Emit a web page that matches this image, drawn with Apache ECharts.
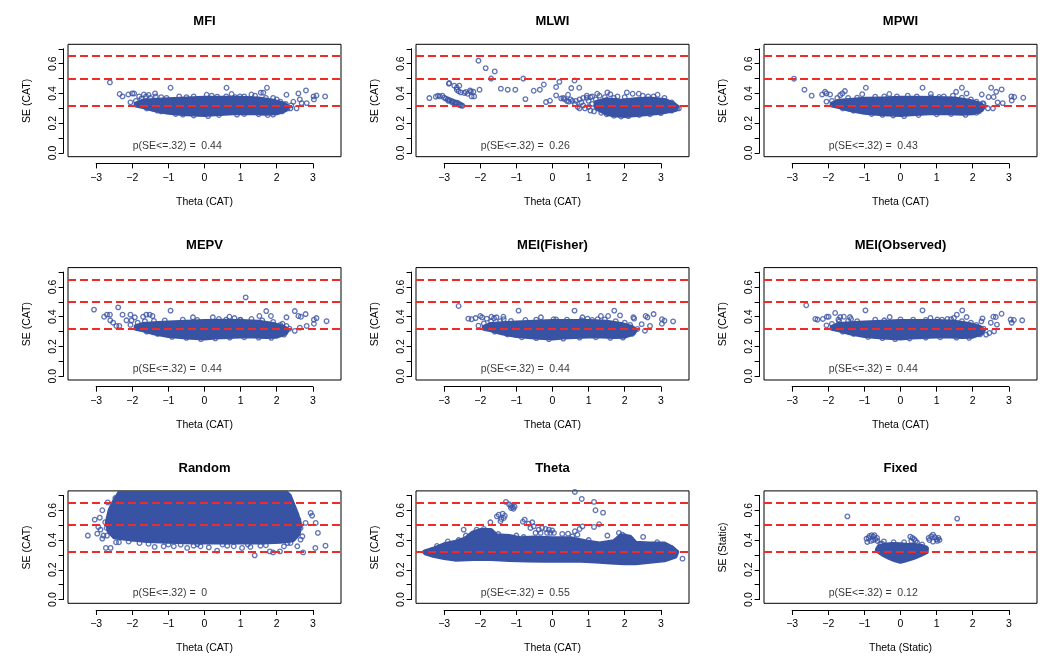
<!DOCTYPE html>
<html>
<head>
<meta charset="utf-8">
<script src="https://cdn.jsdelivr.net/npm/echarts@6/dist/echarts.min.js"></script>
<style>
  html, body { margin: 0; padding: 0; background: #fff; }
  #chart { width: 1050px; height: 663px; }
</style>
</head>
<body>
<div id="chart"></div>
<script>
// panel titles, axis titles and the p(SE<=.32) values
const titles = ['MFI', 'MLWI', 'MPWI', 'MEPV', 'MEI(Fisher)', 'MEI(Observed)', 'Random', 'Theta', 'Fixed'];
const xTitles = ['Theta (CAT)', 'Theta (CAT)', 'Theta (CAT)', 'Theta (CAT)', 'Theta (CAT)', 'Theta (CAT)', 'Theta (CAT)', 'Theta (CAT)', 'Theta (Static)'];
const yTitles = ['SE (CAT)', 'SE (CAT)', 'SE (CAT)', 'SE (CAT)', 'SE (CAT)', 'SE (CAT)', 'SE (CAT)', 'SE (CAT)', 'SE (Static)'];
const pValues = ['0.44', '0.26', '0.43', '0.44', '0.44', '0.44', '0', '0.55', '0.12'];
const refLines = [0.32, 0.5, 0.65];

// outline of the dense (overplotted) part of each cloud, [theta, SE]
const mfiCore = [[-1.9,0.33],[-1.7,0.35],[-1.4,0.355],[-1.0,0.36],[-0.5,0.365],[0,0.37],[0.5,0.37],[1.0,0.37],[1.5,0.365],[1.9,0.35],[2.2,0.33],[2.3,0.31],
  [2.25,0.29],[2.0,0.268],[1.7,0.265],[1.2,0.27],[0.8,0.268],[0.3,0.262],[0,0.256],[-0.5,0.262],[-1.0,0.272],[-1.4,0.29],[-1.7,0.31],[-1.9,0.32]];
const mlwiCore = [[1.2,0.34],[1.5,0.36],[1.9,0.35],[2.3,0.36],[2.7,0.365],[3.1,0.355],[3.35,0.33],[3.45,0.31],
  [3.4,0.29],[3.0,0.272],[2.5,0.26],[2.0,0.25],[1.7,0.255],[1.5,0.265],[1.3,0.29],[1.2,0.31]];
const mpwiCore = [[-1.9,0.33],[-1.7,0.35],[-1.4,0.355],[-1.0,0.362],[-0.5,0.365],[0,0.37],[0.5,0.37],[1.0,0.368],[1.5,0.365],[1.9,0.35],[2.2,0.33],[2.3,0.31],
  [2.25,0.29],[2.0,0.268],[1.7,0.265],[1.2,0.27],[0.8,0.268],[0.3,0.262],[0,0.256],[-0.5,0.262],[-1.0,0.272],[-1.4,0.29],[-1.7,0.31],[-1.9,0.32]];
const mepvCore = [[-1.9,0.335],[-1.7,0.35],[-1.4,0.355],[-1.0,0.36],[-0.5,0.365],[0,0.37],[0.5,0.372],[1.0,0.37],[1.5,0.365],[1.9,0.35],[2.2,0.33],[2.3,0.31],
  [2.25,0.29],[2.0,0.268],[1.7,0.265],[1.2,0.27],[0.8,0.268],[0.3,0.262],[0,0.256],[-0.5,0.262],[-1.0,0.272],[-1.4,0.29],[-1.7,0.31],[-1.9,0.32]];
const fisherCore = [[-1.9,0.33],[-1.7,0.35],[-1.4,0.355],[-1.0,0.36],[-0.5,0.365],[0,0.37],[0.5,0.37],[1.0,0.37],[1.5,0.365],[1.9,0.35],[2.2,0.33],[2.3,0.31],
  [2.25,0.29],[2.0,0.268],[1.7,0.265],[1.2,0.27],[0.8,0.268],[0.3,0.262],[0,0.256],[-0.5,0.262],[-1.0,0.272],[-1.4,0.29],[-1.7,0.31],[-1.9,0.32]];
const obsCore = [[-1.9,0.33],[-1.7,0.35],[-1.4,0.355],[-1.0,0.36],[-0.5,0.365],[0,0.37],[0.5,0.37],[1.0,0.37],[1.5,0.365],[1.9,0.35],[2.2,0.33],[2.3,0.31],
  [2.25,0.29],[2.0,0.268],[1.7,0.265],[1.2,0.27],[0.8,0.268],[0.3,0.262],[0,0.256],[-0.5,0.262],[-1.0,0.272],[-1.4,0.29],[-1.7,0.31],[-1.9,0.32]];
const randomCore = [[-2.35,0.72],[2.25,0.72],[2.35,0.70],[2.45,0.64],[2.55,0.58],[2.65,0.5],[2.6,0.44],[2.45,0.40],[2.1,0.39],[1.6,0.385],[1.0,0.385],
  [0.4,0.385],[-0.3,0.385],[-1.0,0.39],[-1.6,0.395],[-2.2,0.41],[-2.5,0.42],[-2.65,0.46],[-2.7,0.52],[-2.62,0.6],[-2.5,0.66]];
const thetaCore = [[-3.55,0.32],[-3.3,0.34],[-3.0,0.37],[-2.7,0.385],[-2.4,0.41],[-2.2,0.45],[-2.0,0.465],[-1.7,0.465],[-1.55,0.43],[-1.2,0.425],[-0.9,0.41],
  [-0.5,0.415],[0,0.41],[0.5,0.41],[0.9,0.39],[1.3,0.375],[1.7,0.39],[1.9,0.43],[2.15,0.42],[2.3,0.38],[2.7,0.375],[3.1,0.375],[3.3,0.35],[3.45,0.32],
  [3.4,0.29],[3.1,0.265],[2.7,0.255],[2.3,0.245],[2.0,0.245],[1.6,0.25],[1.2,0.258],[0.8,0.262],[0.3,0.262],[-0.2,0.262],[-0.7,0.265],[-1.2,0.268],
  [-1.7,0.275],[-2.2,0.275],[-2.7,0.27],[-3.0,0.28],[-3.3,0.295],[-3.5,0.31]];
const fixedCore = [[-0.65,0.33],[-0.6,0.355],[-0.4,0.368],[-0.2,0.372],[0,0.37],[0.2,0.365],[0.4,0.365],[0.6,0.358],[0.72,0.345],[0.72,0.32],
  [0.55,0.30],[0.35,0.28],[0.15,0.265],[0,0.255],[-0.15,0.265],[-0.35,0.285],[-0.5,0.305]];

// individual points, [theta, SE]
const mfiPts = [[-2.62,0.474],[-2.35,0.396],[-2.27,0.38],[-2.11,0.393],[-2.0,0.40],[-1.95,0.40],[-1.81,0.38],[-1.68,0.393],[-1.62,0.38],[-1.55,0.39],
  [-1.37,0.40],[-1.35,0.38],[-0.94,0.438],[0.06,0.391],[0.61,0.438],[0.75,0.396],[0.98,0.38],[1.30,0.393],[1.56,0.405],[1.63,0.405],[1.73,0.438],
  [2.27,0.391],[2.6,0.40],[2.81,0.42],[2.64,0.36],[3.02,0.38],[3.03,0.36],[3.10,0.386],[3.34,0.38],[2.46,0.344],[2.55,0.30],[2.69,0.335],[2.83,0.335],
  [2.38,0.30],[-2.05,0.34],[-1.9,0.35],[-1.75,0.365],[-1.5,0.37],[-1.2,0.375],[-1.05,0.37],[-0.7,0.38],[-0.5,0.375],[-0.3,0.38],[0.2,0.385],
  [0.35,0.378],[0.6,0.38],[0.85,0.375],[1.1,0.38],[1.4,0.385],[1.7,0.37],[1.9,0.37],[2.0,0.36],[2.1,0.345],[2.25,0.33],[2.4,0.32],[-1.6,0.30],
  [-1.3,0.285],[-1.2,0.28],[-0.8,0.262],[-0.6,0.258],[-0.3,0.252],[0.1,0.248],[0.4,0.255],[0.9,0.258],[1.1,0.262],[1.5,0.26],[1.75,0.255],
  [1.9,0.258],[2.15,0.28],[2.3,0.30]];
const mlwiPts = [[-3.41,0.369],[-3.23,0.378],[-3.17,0.385],[-3.12,0.38],[-3.05,0.385],[-3.0,0.372],[-2.95,0.365],[-2.9,0.36],[-2.85,0.355],[-2.8,0.35],
  [-2.75,0.345],[-2.7,0.34],[-2.65,0.338],[-2.6,0.332],[-2.55,0.325],[-2.52,0.318],[-2.49,0.317],[-2.57,0.322],[-2.67,0.332],[-2.78,0.34],[-2.88,0.35],
  [-2.86,0.47],[-2.87,0.465],[-2.72,0.452],[-2.65,0.44],[-2.58,0.452],[-2.65,0.425],[-2.54,0.407],[-2.44,0.403],[-2.35,0.398],[-2.28,0.42],
  [-2.26,0.411],[-2.19,0.411],[-2.17,0.38],[-2.24,0.38],[-2.4,0.41],[-2.6,0.415],[-2.02,0.425],[-2.05,0.62],[-1.85,0.57],[-1.60,0.548],[-1.70,0.50],
  [-1.43,0.432],[-1.24,0.425],[-1.03,0.425],[-0.81,0.50],[-0.75,0.362],[-0.52,0.418],[-0.35,0.425],[-0.24,0.46],[-0.18,0.342],[-0.07,0.351],
  [0.10,0.443],[0.19,0.478],[0.10,0.387],[0.24,0.367],[0.33,0.362],[0.43,0.391],[0.52,0.436],[0.61,0.487],[0.74,0.438],[0.3,0.37],[0.4,0.35],
  [0.45,0.345],[0.5,0.36],[0.55,0.35],[0.62,0.33],[0.65,0.35],[0.7,0.31],[0.75,0.36],[0.75,0.30],[0.8,0.34],[0.85,0.32],[0.9,0.30],[0.95,0.37],
  [1.0,0.35],[1.0,0.31],[1.05,0.285],[1.1,0.38],[1.1,0.33],[1.15,0.28],[1.2,0.36],[1.25,0.30],[1.3,0.385],[1.35,0.27],[0.85,0.37],[0.95,0.385],
  [1.05,0.375],[1.24,0.398],[1.52,0.407],[2.06,0.407],[2.22,0.398],[2.39,0.398],[2.91,0.391],[2.65,0.38],[1.6,0.395],[1.8,0.38],[2.0,0.375],
  [2.5,0.385],[2.8,0.38],[3.1,0.37],[3.3,0.34],[3.5,0.30],[1.45,0.375],[1.7,0.37],[1.5,0.26],[1.7,0.25],[1.9,0.245],[2.1,0.248],[2.4,0.255],
  [2.7,0.26],[3.0,0.268],[3.3,0.285],[3.45,0.30]];
const mpwiPts = [[-2.95,0.499],[-2.66,0.425],[-2.46,0.385],[-2.17,0.393],[-2.09,0.411],[-2.05,0.40],[-1.95,0.393],[-1.67,0.389],[-1.61,0.40],
  [-1.54,0.416],[-1.06,0.395],[-0.96,0.438],[-0.31,0.396],[0.61,0.438],[0.84,0.396],[1.07,0.376],[1.54,0.411],[1.70,0.438],[1.83,0.40],[2.25,0.393],
  [2.51,0.438],[2.65,0.411],[2.80,0.427],[2.44,0.376],[2.58,0.376],[3.07,0.38],[3.08,0.353],[3.15,0.376],[3.40,0.371],[2.28,0.335],[2.42,0.30],
  [2.56,0.30],[2.69,0.34],[2.83,0.335],[2.17,0.28],[-2.05,0.345],[-1.9,0.35],[-1.75,0.37],[-1.45,0.37],[-1.2,0.372],[-0.7,0.378],[-0.45,0.38],
  [-0.1,0.38],[0.2,0.385],[0.45,0.38],[0.85,0.375],[1.2,0.38],[1.45,0.385],[1.7,0.372],[1.95,0.36],[2.1,0.345],[2.3,0.33],[-1.6,0.30],[-1.3,0.285],
  [-0.8,0.262],[-0.5,0.256],[-0.2,0.252],[0.1,0.248],[0.5,0.255],[1.0,0.26],[1.4,0.262],[1.8,0.256],[2.1,0.27]];
const mepvPts = [[-3.06,0.448],[-2.78,0.40],[-2.70,0.414],[-2.62,0.414],[-2.61,0.376],[-2.53,0.36],[-2.44,0.338],[-2.36,0.338],[-2.39,0.463],
  [-2.27,0.414],[-2.16,0.376],[-2.05,0.414],[-2.02,0.376],[-1.93,0.396],[-1.7,0.40],[-1.61,0.414],[-1.52,0.414],[-1.44,0.405],[-0.94,0.441],
  [-0.32,0.396],[0.23,0.396],[0.69,0.40],[0.83,0.391],[0.99,0.38],[1.14,0.53],[1.52,0.405],[1.71,0.438],[1.84,0.405],[2.27,0.396],[2.5,0.438],
  [2.6,0.405],[2.67,0.40],[2.8,0.418],[3.03,0.38],[3.03,0.353],[3.10,0.391],[3.38,0.37],[2.16,0.353],[2.27,0.338],[2.5,0.305],[2.64,0.327],
  [2.83,0.338],[-2.05,0.345],[-1.85,0.36],[-1.65,0.37],[-1.4,0.372],[-1.1,0.375],[-0.6,0.38],[-0.2,0.378],[0.4,0.385],[0.6,0.38],[1.0,0.378],
  [1.3,0.385],[1.6,0.375],[1.9,0.365],[2.1,0.345],[2.35,0.32],[-1.6,0.30],[-1.3,0.285],[-0.9,0.265],[-0.5,0.258],[-0.1,0.25],[0.3,0.255],
  [0.7,0.26],[1.1,0.262],[1.5,0.26],[1.85,0.258],[2.2,0.28]];
const fisherPts = [[-2.60,0.472],[-2.33,0.387],[-2.24,0.383],[-2.13,0.391],[-2.0,0.405],[-1.95,0.396],[-1.82,0.387],[-1.69,0.40],[-1.62,0.391],
  [-1.55,0.396],[-1.36,0.40],[-1.35,0.383],[-0.94,0.441],[-0.32,0.396],[0.03,0.383],[0.61,0.441],[0.83,0.396],[0.97,0.387],[1.25,0.383],[1.34,0.405],
  [1.54,0.405],[1.71,0.441],[1.87,0.409],[2.24,0.396],[2.26,0.387],[2.58,0.405],[2.63,0.396],[2.8,0.418],[3.03,0.383],[3.03,0.353],[3.10,0.374],
  [3.34,0.369],[2.47,0.35],[2.56,0.306],[2.70,0.338],[2.2,0.32],[-2.05,0.34],[-1.9,0.355],[-1.7,0.368],[-1.45,0.37],[-1.15,0.372],[-0.75,0.378],
  [-0.45,0.38],[0.1,0.382],[0.4,0.38],[0.8,0.376],[1.1,0.378],[1.45,0.382],[1.75,0.37],[2.0,0.36],[2.15,0.345],[2.35,0.318],[-1.6,0.30],[-1.25,0.282],
  [-0.85,0.262],[-0.45,0.256],[-0.1,0.25],[0.3,0.253],[0.75,0.26],[1.2,0.262],[1.6,0.258],[1.95,0.26],[2.2,0.285]];
const obsPts = [[-2.61,0.477],[-2.36,0.385],[-2.30,0.381],[-2.15,0.385],[-2.04,0.40],[-1.99,0.40],[-1.81,0.425],[-1.72,0.381],[-1.67,0.398],
  [-1.57,0.40],[-1.4,0.398],[-1.37,0.385],[-0.97,0.443],[-0.3,0.398],[0.61,0.443],[0.83,0.392],[1.02,0.381],[1.30,0.385],[1.48,0.392],[1.71,0.443],
  [1.83,0.398],[1.56,0.414],[2.27,0.389],[2.24,0.369],[2.57,0.40],[2.64,0.398],[2.80,0.42],[2.5,0.36],[2.67,0.347],[3.05,0.381],[3.08,0.36],
  [3.14,0.378],[3.37,0.376],[2.59,0.302],[2.46,0.291],[2.37,0.28],[-2.05,0.342],[-1.9,0.352],[-1.7,0.368],[-1.45,0.372],[-1.2,0.37],[-0.7,0.38],
  [-0.45,0.376],[0.0,0.382],[0.35,0.38],[0.7,0.378],[1.15,0.38],[1.4,0.384],[1.7,0.37],[1.95,0.36],[2.1,0.345],[2.3,0.32],[-1.6,0.30],[-1.3,0.285],
  [-0.9,0.264],[-0.5,0.256],[-0.15,0.25],[0.25,0.254],[0.7,0.26],[1.1,0.262],[1.55,0.26],[1.9,0.258],[2.2,0.282]];
const randomPts = [[-3.23,0.43],[-3.04,0.537],[-2.97,0.443],[-2.94,0.488],[-2.83,0.60],[-2.88,0.47],[-2.71,0.481],[-2.68,0.653],[-2.73,0.347],
  [-2.60,0.347],[-2.8,0.43],[-2.7,0.43],[-2.83,0.41],[-2.47,0.682],[-2.37,0.385],[-2.24,0.43],[-2.0,0.41],[-2.75,0.52],[-2.9,0.55],[-2.6,0.56],
  [-2.55,0.62],[-2.45,0.385],[-1.38,0.354],[-1.13,0.358],[-0.85,0.358],[-0.66,0.369],[-0.48,0.347],[-0.3,0.362],[-0.11,0.358],[0.12,0.351],
  [0.35,0.329],[0.63,0.362],[0.81,0.358],[1.04,0.347],[1.27,0.354],[1.39,0.297],[1.55,0.362],[1.81,0.324],[1.90,0.317],[2.09,0.324],[2.20,0.358],
  [2.36,0.638],[2.47,0.56],[2.6,0.537],[2.66,0.481],[2.71,0.425],[2.80,0.515],[2.94,0.582],[2.98,0.564],[3.07,0.347],[3.08,0.515],[3.14,0.448],
  [2.73,0.317],[2.66,0.403],[2.57,0.358],[2.38,0.38],[3.35,0.362],[2.55,0.45],[2.5,0.50],[-2.1,0.39],[-1.8,0.38],[-1.55,0.375],[-1.0,0.37],
  [-0.2,0.372],[0.5,0.37],[1.2,0.37],[1.7,0.365],[2.3,0.38]];
const thetaPts = [[0.62,0.723],[0.81,0.676],[1.15,0.656],[1.19,0.60],[1.40,0.584],[1.29,0.506],[1.15,0.488],[-1.29,0.656],[-1.2,0.64],[-1.15,0.63],
  [-1.1,0.62],[-1.05,0.625],[-1.15,0.615],[-1.08,0.61],[-1.54,0.559],[-1.49,0.57],[-1.38,0.577],[-1.42,0.541],[-1.35,0.548],[-1.44,0.526],
  [-1.32,0.563],[-1.72,0.519],[-2.46,0.47],[-0.82,0.523],[-0.77,0.537],[-0.66,0.51],[-0.56,0.519],[-0.52,0.492],[-0.61,0.481],[-0.47,0.448],
  [-0.38,0.47],[-0.29,0.481],[-0.19,0.474],[-0.10,0.47],[-0.01,0.465],[-0.33,0.448],[-0.15,0.448],[-0.06,0.448],[0.04,0.448],[0.27,0.441],
  [0.43,0.443],[0.62,0.459],[0.75,0.474],[0.83,0.492],[0.69,0.436],[0.55,0.425],[1.52,0.43],[1.84,0.448],[1.93,0.436],[2.0,0.425],[2.07,0.407],
  [2.12,0.391],[2.51,0.421],[3.6,0.275],[-3.48,0.32],[-2.9,0.39],[-2.6,0.40],[-3.2,0.36],[-2.4,0.43],[-1.0,0.43],[-1.5,0.44],[-0.8,0.42],[1.0,0.40],
  [2.9,0.385],[3.3,0.345],[-2.1,0.47],[-1.9,0.475]];
const fixedPts = [[-1.47,0.559],[1.57,0.544],[-0.94,0.409],[-0.86,0.427],[-0.8,0.432],[-0.75,0.423],[-0.7,0.405],[-0.65,0.414],[-0.92,0.387],
  [-0.82,0.394],[-0.76,0.40],[-0.64,0.394],[-0.88,0.414],[-0.72,0.432],[0.78,0.414],[0.85,0.425],[0.9,0.436],[0.95,0.42],[1.0,0.405],[1.05,0.414],
  [0.8,0.40],[0.9,0.389],[1.02,0.394],[1.08,0.40],[0.27,0.423],[0.33,0.414],[0.38,0.405],[0.42,0.394],[0.46,0.382],[0.3,0.394],[-0.51,0.376],
  [-0.19,0.385],[-0.46,0.391],[-0.56,0.376],[0.1,0.385],[0.6,0.37],[0.7,0.345],[-0.62,0.34]];

const cores = [mfiCore, mlwiCore, mpwiCore, mepvCore, fisherCore, obsCore, randomCore, thetaCore, fixedCore];
const points = [mfiPts, mlwiPts, mpwiPts, mepvPts, fisherPts, obsPts, randomPts, thetaPts, fixedPts];

const BLUE = '#3953a4';
const RED = '#ee2a2a';
const FONT = '"Liberation Sans", Arial, Helvetica, sans-serif';
const XMIN = -3.78, XMAX = 3.78, YMIN = -0.025, YMAX = 0.73;
const colLeft = [68, 416, 764];
const rowTop = [44.3, 267.6, 490.9];
const BOX_W = 273, BOX_H = 112.4;
const sx = BOX_W / (XMAX - XMIN);
const sy = BOX_H / (YMAX - YMIN);

const minus = v => String(v).replace('-', '\u2212');

const grid = [], xAxis = [], yAxis = [], series = [], title = [];

for (let i = 0; i < 9; i++) {
  const L = colLeft[i % 3], T = rowTop[Math.floor(i / 3)];
  // plot box
  grid.push({ left: L, top: T, width: BOX_W, height: BOX_H, show: true,
    borderColor: '#000', borderWidth: 1, backgroundColor: 'transparent', containLabel: false });
  xAxis.push({ gridIndex: i, type: 'value', min: XMIN, max: XMAX, show: false });
  yAxis.push({ gridIndex: i, type: 'value', min: YMIN, max: YMAX, show: false });
  title.push({ text: titles[i], left: L + BOX_W / 2, top: T - 29, textAlign: 'center', padding: 0,
    textStyle: { fontFamily: FONT, fontSize: 13, fontWeight: 'bold', color: '#000' } });
}

// R-style axes: a second grid spanning only the tick range, axes pushed outward
for (let i = 0; i < 9; i++) {
  const L = colLeft[i % 3], T = rowTop[Math.floor(i / 3)];
  const gi = 9 + i;
  grid.push({ left: L + (-3 - XMIN) * sx, top: T + (YMAX - 0.7) * sy, width: 6 * sx, height: 0.7 * sy, show: false });
  xAxis.push({
    gridIndex: gi, type: 'value', min: -3, max: 3, interval: 1, position: 'bottom',
    offset: -YMIN * sy + 6.7,
    axisLine: { show: true, onZero: false, lineStyle: { color: '#000', width: 1 } },
    axisTick: { show: true, length: 5, lineStyle: { color: '#000' } },
    axisLabel: { fontFamily: FONT, fontSize: 10.5, color: '#000', margin: 9, formatter: minus },
    splitLine: { show: false },
    name: xTitles[i], nameLocation: 'middle', nameGap: 33,
    nameTextStyle: { fontFamily: FONT, fontSize: 10.5, color: '#000' }
  });
  yAxis.push({
    gridIndex: gi, type: 'value', min: 0, max: 0.7, interval: 0.1, position: 'left',
    offset: (-3 - XMIN) * sx + 4.4,
    axisLine: { show: true, onZero: false, lineStyle: { color: '#000', width: 1 } },
    axisTick: { show: true, length: 5, lineStyle: { color: '#000' } },
    axisLabel: { fontFamily: FONT, fontSize: 10.5, color: '#000', margin: 5, rotate: 90,
      formatter: v => (Math.round(v * 10) % 2 === 0 ? v.toFixed(1) : '') },
    splitLine: { show: false },
    name: yTitles[i], nameLocation: 'middle', nameGap: 31,
    nameTextStyle: { fontFamily: FONT, fontSize: 10.5, color: '#000' }
  });
}

for (let i = 0; i < 9; i++) {
  const core = cores[i];
  series.push({
    type: 'custom', xAxisIndex: i, yAxisIndex: i, clip: true, silent: true,
    data: core,
    renderItem: function (params, api) {
      if (params.dataIndex !== 0) return null;
      return {
        type: 'polygon',
        shape: { points: core.map(p => api.coord(p)) },
        style: { fill: BLUE, stroke: BLUE, lineWidth: 4.5, lineJoin: 'round' }
      };
    }
  });
  series.push({
    type: 'scatter', xAxisIndex: i, yAxisIndex: i, data: points[i], symbol: 'circle', symbolSize: 4.6,
    silent: true, clip: true,
    itemStyle: { color: 'rgba(0,0,0,0)', borderColor: BLUE, borderWidth: 1.3 }
  });
  series.push({
    type: 'scatter', xAxisIndex: i, yAxisIndex: i, data: [[-2, 0.045]], symbolSize: 1, silent: true,
    itemStyle: { color: 'rgba(0,0,0,0)' },
    label: { show: true, position: 'right', distance: 0, formatter: 'p(SE<=.32) =  ' + pValues[i],
      fontFamily: FONT, fontSize: 10.5, color: '#000' },
    markLine: {
      silent: true, symbol: ['none', 'none'], label: { show: false },
      lineStyle: { color: RED, width: 2, type: [8, 4] },
      data: refLines.map(v => ({ yAxis: v }))
    }
  });
}

const chart = echarts.init(document.getElementById('chart'), null, { renderer: 'canvas' });
chart.setOption({ animation: false, backgroundColor: '#fff', title, grid, xAxis, yAxis, series });
window.addEventListener('resize', () => chart.resize());
</script>
</body>
</html>
